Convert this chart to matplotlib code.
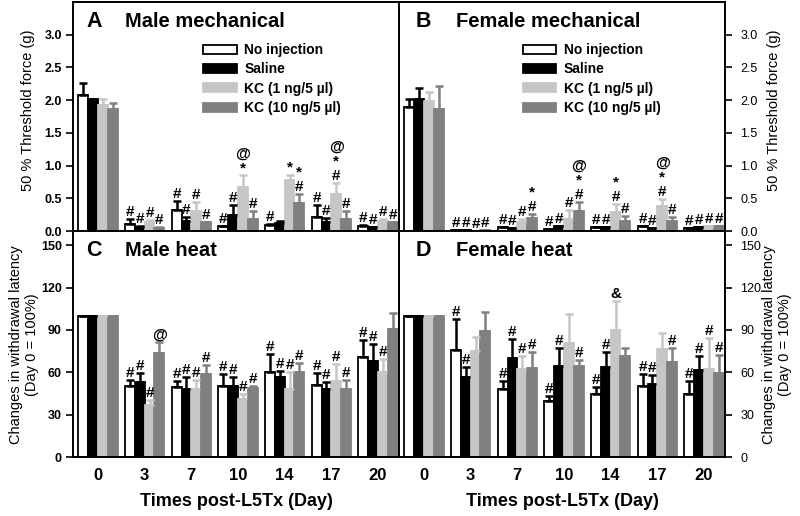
import matplotlib
matplotlib.use("Agg")
import matplotlib.pyplot as plt
import numpy as np
from matplotlib.patches import Patch

plt.rcParams['font.family'] = ['Liberation Sans', 'DejaVu Sans']

days = ['0', '3', '7', '10', '14', '17', '20']
groups = ['No injection', 'Saline', 'KC (1 ng/5 \u00b5l)', 'KC (10 ng/5 \u00b5l)']

# Panel A: male mechanical (g)
male_mech_noinj = [2.08, 0.11, 0.32, 0.07, 0.09, 0.22, 0.08]
male_mech_noinj_err = [0.18, 0.08, 0.14, 0.00, 0.02, 0.17, 0.01]
male_mech_saline = [2.02, 0.06, 0.16, 0.24, 0.12, 0.14, 0.06]
male_mech_saline_err = [0.00, 0.02, 0.06, 0.15, 0.04, 0.06, 0.00]
male_mech_kc1 = [1.92, 0.14, 0.30, 0.67, 0.78, 0.57, 0.16]
male_mech_kc1_err = [0.09, 0.03, 0.15, 0.18, 0.08, 0.17, 0.02]
male_mech_kc10 = [1.86, 0.05, 0.13, 0.19, 0.43, 0.19, 0.13]
male_mech_kc10_err = [0.10, 0.01, 0.00, 0.11, 0.14, 0.12, 0.00]
male_mech_sig = [['', '#', '#', '#', '#', '#', '#'],
                 ['', '#', '#', '#', '', '#', '#'],
                 ['', '#', '#', '@\n*', '*', '@\n*\n#', '#'],
                 ['', '#', '#', '#', '*\n#', '#', '#']]

# Panel B: female mechanical (g)
female_mech_noinj = [1.89, 0.02, 0.06, 0.03, 0.055, 0.075, 0.04]
female_mech_noinj_err = [0.12, 0.00, 0.00, 0.00, 0.00, 0.00, 0.00]
female_mech_saline = [2.02, 0.015, 0.045, 0.07, 0.055, 0.04, 0.06]
female_mech_saline_err = [0.17, 0.00, 0.00, 0.00, 0.00, 0.00, 0.00]
female_mech_kc1 = [1.98, 0.005, 0.14, 0.19, 0.29, 0.38, 0.08]
female_mech_kc1_err = [0.14, 0.00, 0.05, 0.13, 0.12, 0.11, 0.00]
female_mech_kc10 = [1.86, 0.02, 0.20, 0.31, 0.15, 0.16, 0.08]
female_mech_kc10_err = [0.35, 0.00, 0.06, 0.13, 0.08, 0.06, 0.00]
female_mech_sig = [['', '#', '#', '#', '#', '#', '#'],
                   ['', '#', '#', '#', '#', '#', '#'],
                   ['', '#', '#', '#', '*\n#', '@\n*\n#', '#'],
                   ['', '#', '*\n#', '@\n*\n#', '#', '#', '#']]

# Panel C: male heat (% of day 0)
male_heat_noinj = [100, 50.6, 49.9, 50.4, 60.4, 51.3, 71.0]
male_heat_noinj_err = [0, 4.2, 4.2, 8.4, 12.4, 8.0, 11.7]
male_heat_saline = [100, 53.4, 48.0, 50.4, 56.4, 47.8, 68.1]
male_heat_saline_err = [0, 6.1, 8.4, 6.5, 4.7, 5.1, 11.8]
male_heat_kc1 = [100, 36.5, 48.0, 41.2, 48.2, 54.1, 60.0]
male_heat_kc1_err = [0, 4.0, 6.8, 3.5, 11.8, 11.7, 9.3]
male_heat_kc10 = [100, 73.3, 58.8, 48.5, 60.4, 48.2, 90.4]
male_heat_kc10_err = [0, 8.2, 6.5, 2.1, 5.9, 6.4, 11.6]
male_heat_sig = [['', '#', '#', '#', '#', '#', '#'],
                 ['', '#', '#', '#', '#', '#', '#'],
                 ['', '#', '#', '#', '#', '#', '#'],
                 ['', '@', '#', '#', '#', '#', '']]

# Panel D: female heat (% of day 0)
female_heat_noinj = [100, 75.9, 48.2, 39.3, 44.3, 50.4, 44.7]
female_heat_noinj_err = [0, 21.5, 5.9, 3.8, 5.1, 8.4, 8.9]
female_heat_saline = [100, 56.4, 69.8, 64.6, 63.9, 51.8, 61.6]
female_heat_saline_err = [0, 7.1, 13.6, 12.9, 10.1, 6.5, 10.1]
female_heat_kc1 = [100, 75.2, 62.3, 81.0, 89.7, 76.3, 62.3]
female_heat_kc1_err = [0, 9.8, 9.4, 20.4, 20.6, 11.7, 22.2]
female_heat_kc10 = [100, 89.2, 63.0, 64.6, 71.7, 67.4, 59.3]
female_heat_kc10_err = [0, 13.6, 11.0, 4.0, 5.8, 10.1, 12.8]
female_heat_sig = [['', '#', '#', '#', '#', '#', '#'],
                   ['', '#', '#', '#', '#', '#', '#'],
                   ['', '', '#', '', '&', '', '#'],
                   ['', '', '#', '#', '', '#', '#']]

face = ['white', 'black', '#c6c6c6', '#808080']
edge = ['black', 'black', '#c6c6c6', '#808080']
ecol = ['black', 'black', '#c6c6c6', '#808080']

W, H = 800, 516
fig = plt.figure(figsize=(8.0, 5.16), dpi=100)

def fx(px):
    return px / W

def fy(py):
    return 1 - py / H

axA = fig.add_axes([fx(73), fy(231), fx(326), fy(2) - fy(231)])
axB = fig.add_axes([fx(399), fy(231), fx(326), fy(2) - fy(231)])
axC = fig.add_axes([fx(73), fy(457), fx(326), fy(231) - fy(457)])
axD = fig.add_axes([fx(399), fy(457), fx(326), fy(231) - fy(457)])

bw = 0.21
x = np.arange(len(days))

def draw(ax, vals, errs, sigs, ymax, ticks, ticklabels, fmt_off):
    for i in range(4):
        xs = x + (i - 1.5) * bw
        ax.bar(xs, vals[i], width=bw, color=face[i], edgecolor=edge[i],
               linewidth=1.3, zorder=2)
        ax.errorbar(xs, vals[i], yerr=[np.zeros(len(days)), errs[i]], fmt='none',
                    ecolor=ecol[i], elinewidth=1.8, capsize=3.2, capthick=1.8, zorder=3)
        for j in range(len(days)):
            s = sigs[i][j]
            if s:
                ax.text(xs[j], vals[i][j] + errs[i][j] + fmt_off, s, ha='center',
                        va='bottom', fontsize=11, fontweight='bold',
                        linespacing=1.05, zorder=4)
    ax.set_xlim(-0.535, 6.45)
    ax.set_ylim(0, ymax)
    ax.set_yticks(ticks)
    ax.set_yticklabels(ticklabels)
    for sp in ax.spines.values():
        sp.set_linewidth(1.4)
    ax.tick_params(axis='y', direction='out', length=5, width=1.2,
                   labelsize=9, pad=3)
    for lab in ax.get_yticklabels():
        lab.set_fontweight('bold')
    ax.tick_params(axis='x', length=0)

mech_ticks = [0, 0.5, 1.0, 1.5, 2.0, 2.5, 3.0]
mech_labels = ['0.0', '0.5', '1.0', '1.5', '2.0', '2.5', '3.0']
heat_ticks = [0, 30, 60, 90, 120, 150]
heat_labels = ['0', '30', '60', '90', '120', '150']

draw(axA, [male_mech_noinj, male_mech_saline, male_mech_kc1, male_mech_kc10],
     [male_mech_noinj_err, male_mech_saline_err, male_mech_kc1_err, male_mech_kc10_err],
     male_mech_sig, 3.5, mech_ticks, mech_labels, 0.0)
draw(axB, [female_mech_noinj, female_mech_saline, female_mech_kc1, female_mech_kc10],
     [female_mech_noinj_err, female_mech_saline_err, female_mech_kc1_err, female_mech_kc10_err],
     female_mech_sig, 3.5, mech_ticks, mech_labels, 0.0)
draw(axC, [male_heat_noinj, male_heat_saline, male_heat_kc1, male_heat_kc10],
     [male_heat_noinj_err, male_heat_saline_err, male_heat_kc1_err, male_heat_kc10_err],
     male_heat_sig, 160, heat_ticks, heat_labels, 0.0)
draw(axD, [female_heat_noinj, female_heat_saline, female_heat_kc1, female_heat_kc10],
     [female_heat_noinj_err, female_heat_saline_err, female_heat_kc1_err, female_heat_kc10_err],
     female_heat_sig, 160, heat_ticks, heat_labels, 0.0)

for ax in (axB, axD):
    ax.yaxis.tick_right()
    ax.tick_params(axis='y', which='both', left=False, right=True, labelleft=False,
                   labelright=True, pad=6)

for ax in (axA, axB):
    ax.set_xticks(x)
    ax.set_xticklabels([])

xfont = dict(family=['Liberation Sans', 'DejaVu Sans'], weight='bold')
for ax in (axC, axD):
    ax.set_xticks(x)
    ax.set_xticklabels(days, fontsize=12, **xfont)
    ax.tick_params(axis='x', pad=8)
    ax.set_xlabel('Times post-L5Tx (Day)', fontsize=13, labelpad=7, **xfont)

titles = [(axA, 'A', 'Male mechanical', 0.040, 0.160),
          (axB, 'B', 'Female mechanical', 0.050, 0.175),
          (axC, 'C', 'Male heat', 0.040, 0.160),
          (axD, 'D', 'Female heat', 0.050, 0.175)]
for ax, letter, name, xl, xt in titles:
    ax.text(xl, 0.915, letter, transform=ax.transAxes, fontsize=15.5,
            fontweight='bold', ha='left', va='center')
    ax.text(xt, 0.915, name, transform=ax.transAxes, fontsize=14.5,
            fontweight='bold', ha='left', va='center')

handles = [Patch(facecolor=face[i], edgecolor=edge[i], linewidth=1.3) for i in range(4)]
for ax, lx in ((axA, 0.40), (axB, 0.38)):
    ax.legend(handles, groups, loc='upper left', bbox_to_anchor=(lx, 0.82),
              frameon=False, borderpad=0, borderaxespad=0, handlelength=2.4,
              handleheight=0.6, labelspacing=0.38, handletextpad=0.55,
              prop=dict(size=10, weight='bold'))

fig.text(fx(28), fy(110), '50 % Threshold force (g)', rotation=90,
         ha='center', va='center', fontsize=10.5)
fig.text(fx(774), fy(110), '50 % Threshold force (g)', rotation=90,
         ha='center', va='center', fontsize=10.5)
fig.text(fx(24), fy(345), 'Changes in withdrawal latency\n(Day 0 = 100%)', rotation=90,
         ha='center', va='center', fontsize=10.5, linespacing=1.1)
fig.text(fx(777), fy(345), 'Changes in withdrawal latency\n(Day 0 = 100%)', rotation=90,
         ha='center', va='center', fontsize=10.5, linespacing=1.1)

fig.savefig('out.png', dpi=100)
